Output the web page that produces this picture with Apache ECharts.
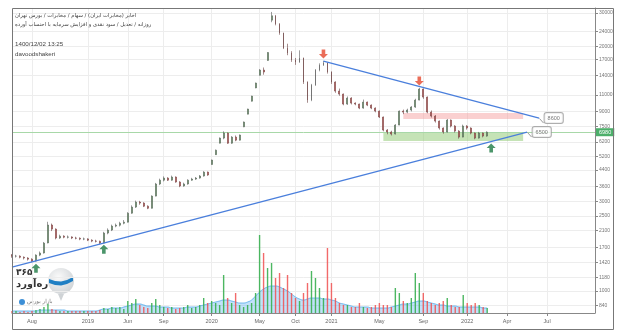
<!DOCTYPE html>
<html><head><meta charset="utf-8">
<script src="https://cdn.jsdelivr.net/npm/echarts@6/dist/echarts.min.js"></script>
<style>html,body{margin:0;padding:0;background:#fff}#c{width:628px;height:333px}</style>
</head><body><div id="c"></div>
<script>
// ---- data ----
// candles: [open, close, low, high]
const candles = [
[1550,1530,1500,1570],[1530,1530,1505,1555],[1530,1510,1490,1545],[1510,1495,1470,1525],[1495,1475,1450,1510],
[1475,1440,1420,1490],[1440,1550,1430,1565],[1550,1590,1530,1620],[1590,1795,1580,1820],[1800,2240,1790,2330],
[2240,2130,2080,2280],[2130,1910,1880,2150],[1910,1955,1890,1990],[1955,1930,1905,1975],[1930,1935,1900,1970],
[1935,1910,1885,1950],[1910,1905,1880,1940],[1905,1885,1860,1925],[1885,1890,1860,1920],[1890,1860,1840,1905],
[1860,1840,1815,1880],[1840,1835,1810,1870],[1835,1795,1770,1850],[1795,2030,1790,2060],[2030,2105,2000,2150],
[2105,2210,2080,2250],[2210,2235,2180,2280],[2235,2290,2200,2330],[2290,2320,2260,2380],[2320,2590,2310,2620],
[2590,2790,2570,2850],[2790,2965,2760,3020],[2965,2930,2870,3010],[2930,2820,2790,2960],[2820,2750,2720,2850],
[2750,3190,2740,3220],[3190,3700,3180,3750],[3700,3880,3650,3950],[3880,3980,3820,4060],[3980,3880,3840,4020],
[3880,4030,3850,4100],[4030,3790,3760,4060],[3790,3610,3560,3830],[3610,3700,3580,3760],[3700,3880,3670,3920],
[3880,3930,3850,3990],[3930,3980,3890,4030],[3980,4080,3950,4130],[4080,4280,4050,4330],[4280,4130,4090,4310],
[4700,4960,4680,4990],[5300,5600,5280,5640],[6100,6490,6080,6540],[6490,6900,6400,7050],[6900,6100,6050,6950],
[6100,6570,6050,6650],[6570,6330,6250,6700],[6330,6740,6300,6780],[7450,7900,7420,7950],[8700,9260,8680,9300],
[10200,10850,10150,10900],[12000,12730,11950,12800],[14000,14930,13950,15100],[14930,14570,14100,15400],[16800,18500,16700,18600],
[27500,29000,26800,30400],[29000,26200,25800,29300],[26200,23480,23000,26500],[23480,19530,19300,23600],[19530,18380,17900,20600],
[18380,16870,16500,18800],[16870,16460,15900,17300],[16460,17290,16300,19000],[17290,12890,12600,17400],[12890,10330,10000,13000],
[10330,12420,10200,12600],[12420,14930,12300,15100],[14930,15870,14700,16200],[15870,16300,15700,16700],[16300,14570,14300,16400],
[14570,12890,12600,14700],[12890,11540,11300,13000],[11540,11120,10900,11900],[11120,9840,9700,11200],[9840,10590,9750,10800],
[10590,9960,9800,10700],[9960,9840,9700,10050],[9840,9370,9250,9900],[9370,10080,9300,10400],[10080,9720,9600,10150],
[9720,9370,9250,9800],[9370,9030,8900,9450],[9030,8400,8300,9100],[8400,7160,7050,8450],[7160,6990,6800,7250],
[6990,6820,6700,7100],[6820,7610,6780,7700],[7610,9030,7600,9100],[9030,8920,8700,9200],[8920,9150,8800,9300],
[9150,9490,9000,9600],[9490,10330,9400,10500],[10330,11830,10300,12000],[11830,10720,10500,11900],[10720,8920,8800,10800],
[8920,8500,8350,9100],[8500,7990,7850,8600],[7990,7340,7200,8050],[7340,6990,6850,7400],[6990,8090,6950,8200],
[8090,7520,7400,8150],[7520,7070,6950,7600],[7070,6570,6450,7150],[6570,7520,6550,7650],[7520,7340,7200,7600],
[7340,6900,6800,7400],[6900,6490,6400,6950],[6490,6900,6450,7000],[6900,6650,6550,6950],[6650,6980,6600,7050]
];
const volumes = [
2,2,1,2,1,2,3,4,6,9,
4,3,2,2,2,2,2,2,2,2,2,2,3,
5,4,6,5,6,4,12,10,14,8,6,5,
10,14,8,6,5,6,4,5,6,8,5,6,8,15,10,
12,10,8,38,15,10,20,8,
6,8,10,20,78,60,45,
50,35,40,25,38,20,15,12,
20,30,42,35,25,15,65,30,
15,10,8,8,6,6,10,6,5,6,8,10,8,8,6,
25,20,12,10,15,40,30,20,12,10,8,10,12,
15,8,6,6,18,10,8,10,8,6,5
];
const volumeMA = [
2,2,2,2,2,2,2,3,3,3,3,3,3,3,2,2,2,2,2,2,2,2,3,
4,4,5,5,5,6,7,8,9,9,8,7,
7,7,6,6,6,5,5,5,5,6,6,6,7,8,9,
10,11,12,13,13,12,11,10,
10,11,13,17,21,24,26,
27,27,26,24,22,19,16,14,
13,14,15,15,15,14,14,13,
12,10,9,8,7,6,6,6,6,5,5,5,5,5,6,
7,8,9,9,10,11,12,12,11,10,9,8,8,
7,7,7,6,6,6,6,6,6,5,5
];
const priceTicks = [840,1000,1180,1420,1700,2100,2500,3000,3600,4400,5200,6200,7500,9000,11000,14000,17000,20000,24000,30000];
const xTickLabels = ['Aug','2019','Jun','Sep','2020','May','Oct','2021','May','Sep','2022','Apr','Jul'];
const xTickIndex  = [5,19,29,38,50,62,71,80,92,103,114,124,134];
const totalSlots = 147;
const lastPrice = 6980;
const resistanceLine = [[78,16660],[132,8290]];
const supportLine = [[0,1337],[129,6986]];
const resistanceZone = [98,128,8192,8815];
const supportZone = [93,128,6256,6900];
const downArrows = [[78,18156],[102,13046]];
const upArrows = [[6,1320],[23,1667],[120,5741]];
const calloutTexts = ['8600','6500'];
const titleLines = ['اخابر (مخابرات ایران) / سهام / مخابرات / بورس تهران','روزانه / تعدیل / سود نقدی و افزایش سرمایه با احتساب آورده'];
const stampLines = ['1400/12/02 13:25','davoodshakeri'];
const priceRange = [763,31900];
const volumeMax = 80;

// ---- build ----
const L = Math.log;
const cats = Array.from({length: totalSlots}, () => '');
xTickLabels.forEach((t, k) => { cats[xTickIndex[k]] = t; });
const showCat = (i, v) => v !== '';
const lnCandles = candles.map(r => r.map(L));
const UP = '#4caf50', DOWN = '#ef5350';
const volData = volumes.map((v, i) => ({value: v, itemStyle: {color: candles[i][1] >= candles[i][0] ? 'rgba(56,175,80,0.9)' : 'rgba(240,80,80,0.85)'}}));
const arrowDown = 'path://M3,0 L7,0 L7,5 L10,5 L5,10 L0,5 L3,5 Z';
const arrowUp = 'path://M5,0 L10,5 L7,5 L7,10 L3,10 L3,5 L0,5 Z';
const calloutStyle = {show: true, color: '#555', fontSize: 5.5, fontFamily: 'Liberation Sans', backgroundColor: '#fff', borderColor: '#9a9a9a', borderWidth: 1, borderRadius: 2, padding: [2, 3]};

const chart = echarts.init(document.getElementById('c'), null, {renderer: 'canvas'});
chart.setOption({
  animation: false,
  backgroundColor: '#fff',
  grid: [
    {left: 12, right: 33, top: 8, bottom: 20},
    {left: 12, right: 33, top: 233, bottom: 20}
  ],
  xAxis: [
    {type: 'category', gridIndex: 0, data: cats, boundaryGap: false,
     axisLine: {show: true, lineStyle: {color: '#888'}},
     axisTick: {show: true, interval: showCat, length: 3, lineStyle: {color: '#888'}},
     axisLabel: {interval: showCat, fontSize: 5.5, color: '#666', margin: 5, fontFamily: 'Liberation Sans'},
     splitLine: {show: true, interval: showCat, lineStyle: {color: '#ededed', width: 1}}},
    {type: 'category', gridIndex: 1, data: cats, boundaryGap: false, show: false}
  ],
  yAxis: [
    {type: 'value', gridIndex: 0, position: 'right', min: L(priceRange[0]), max: L(priceRange[1]), scale: true,
     axisLine: {show: true, lineStyle: {color: '#888'}},
     axisTick: {show: true, length: 3, customValues: priceTicks.map(L), lineStyle: {color: '#888'}},
     axisLabel: {customValues: priceTicks.map(L), formatter: v => String(Math.round(Math.exp(v))), fontSize: 5, color: '#777', margin: 4, fontFamily: 'Liberation Sans'},
     splitLine: {show: true, lineStyle: {color: '#ededed', width: 1}}},
    {type: 'value', gridIndex: 1, min: 0, max: volumeMax, show: false, splitLine: {show: false}}
  ],
  series: [
    {type: 'line', xAxisIndex: 1, yAxisIndex: 1, data: volumeMA, symbol: 'none', smooth: true,
     lineStyle: {color: '#4da6e8', width: 0.8}, areaStyle: {color: 'rgba(80,170,240,0.5)'}, z: 1},
    {type: 'bar', xAxisIndex: 1, yAxisIndex: 1, data: volData, barWidth: 1.4, z: 2},
    {type: 'candlestick', xAxisIndex: 0, yAxisIndex: 0, data: lnCandles, barMaxWidth: 1.4, z: 5,
     itemStyle: {color: UP, color0: DOWN, borderColor: '#5a5a5a', borderColor0: '#6a4040', borderWidth: 0.6},
     markArea: {silent: true, data: [
       [{xAxis: resistanceZone[0], yAxis: L(resistanceZone[3]), itemStyle: {color: 'rgba(244,150,150,0.45)'}}, {xAxis: resistanceZone[1], yAxis: L(resistanceZone[2])}],
       [{xAxis: supportZone[0], yAxis: L(supportZone[3]), itemStyle: {color: 'rgba(140,200,110,0.5)'}}, {xAxis: supportZone[1], yAxis: L(supportZone[2])}]
     ]},
     markLine: {silent: true, symbol: 'none', data: [{yAxis: L(lastPrice)}],
       lineStyle: {color: '#a8d8a8', width: 1, type: 'solid'},
       label: {show: true, position: 'end', formatter: String(lastPrice), color: '#fff', backgroundColor: '#4caf6a', padding: [1, 3], fontSize: 5.5, distance: 1, fontFamily: 'Liberation Sans'}}},
    {type: 'line', xAxisIndex: 0, yAxisIndex: 0, data: resistanceLine.map(p => [p[0], L(p[1])]), symbol: 'none', lineStyle: {color: '#4a7fdc', width: 1.3}, z: 6},
    {type: 'line', xAxisIndex: 0, yAxisIndex: 0, data: supportLine.map(p => [p[0], L(p[1])]), symbol: 'none', lineStyle: {color: '#4a7fdc', width: 1.3}, z: 6},
    {type: 'scatter', xAxisIndex: 0, yAxisIndex: 0, data: downArrows.map(p => [p[0], L(p[1])]), symbol: arrowDown, symbolSize: [9, 9], itemStyle: {color: '#e5482e'}, z: 8},
    {type: 'scatter', xAxisIndex: 0, yAxisIndex: 0, data: upArrows.map(p => [p[0], L(p[1])]), symbol: arrowUp, symbolSize: [9, 9], itemStyle: {color: '#1e7a45'}, z: 8},
    {type: 'scatter', xAxisIndex: 0, yAxisIndex: 0, symbolSize: 1, itemStyle: {color: 'rgba(0,0,0,0)'}, z: 9,
     data: [
       {value: [resistanceLine[1][0], L(resistanceLine[1][1])], label: Object.assign({}, calloutStyle, {formatter: calloutTexts[0]}), labelLayout: {dx: 10, dy: -14}},
       {value: [supportLine[1][0], L(supportLine[1][1])], label: Object.assign({}, calloutStyle, {formatter: calloutTexts[1]}), labelLayout: {dx: 12, dy: -7}}
     ],
     label: {show: true, position: 'right'},
     labelLine: {show: true, lineStyle: {color: '#9a9a9a', width: 1}}}
  ],
  graphic: [
    {type: 'rect', shape: {x: 12.5, y: 8.5, width: 601, height: 321}, style: {fill: 'none', stroke: '#777', lineWidth: 1}, z: 100, silent: true},
    {type: 'text', left: 15, top: 13, style: {text: titleLines[0], fontSize: 5.3, fill: '#444', fontFamily: 'DejaVu Sans'}, z: 50},
    {type: 'text', left: 15, top: 22, style: {text: titleLines[1], fontSize: 5.3, fill: '#444', fontFamily: 'DejaVu Sans'}, z: 50},
    {type: 'text', left: 15, top: 41, style: {text: stampLines[0], fontSize: 6.2, fill: '#444', fontFamily: 'Liberation Sans'}, z: 50},
    {type: 'text', left: 15, top: 51, style: {text: stampLines[1], fontSize: 6.2, fill: '#444', fontFamily: 'Liberation Sans'}, z: 50},
    {type: 'group', left: 16, top: 268, z: 40, children: [
      {type: 'text', style: {x: 2, y: 0, text: '۳۶۵', fontSize: 9, fontWeight: 'bold', fill: '#333', fontFamily: 'DejaVu Sans'}},
      {type: 'text', style: {x: 2, y: 11, text: 'ره‌آورد', fontSize: 10, fontWeight: 'bold', fill: '#333', fontFamily: 'DejaVu Sans'}},
      {type: 'circle', shape: {cx: 47, cy: 13, r: 13}, style: {fill: {type: 'radial', x: 0.4, y: 0.35, r: 0.7, colorStops: [{offset: 0, color: '#fafafa'}, {offset: 1, color: '#cfd3d6'}]}}},
      {type: 'polygon', shape: {points: [[35,11],[41,13],[47,13.5],[53,12],[59,9],[59,13],[53,16],[47,17.5],[41,17],[35,15]]}, style: {fill: '#1f7fc4'}},
      {type: 'polygon', shape: {points: [[44,26],[50,26],[47,33]]}, style: {fill: '#cfd3d6'}},
      {type: 'circle', shape: {cx: 8, cy: 34, r: 3}, style: {fill: '#3d8fd6'}},
      {type: 'text', style: {x: 13, y: 31, text: 'بازار بورس', fontSize: 5.5, fill: '#777', fontFamily: 'DejaVu Sans'}}
    ]}
  ]
});
</script></body></html>
